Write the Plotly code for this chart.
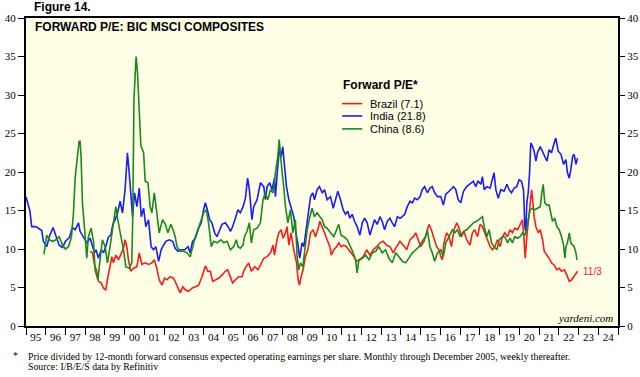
import plotly.graph_objects as go

# ---------------- data (decimal years, forward P/E) ----------------
india_x = [1995.00, 1995.20, 1995.29, 1995.50, 1995.80, 1995.88, 1996.05, 1996.18, 1996.37, 1996.52, 1996.68, 1996.85, 1997.00, 1997.20, 1997.35,
           1997.49, 1997.66, 1997.74, 1997.91, 1998.08, 1998.25, 1998.37, 1998.47, 1998.55, 1998.67, 1998.81, 1998.93, 1999.04, 1999.18, 1999.30,
           1999.40, 1999.52, 1999.64, 1999.77, 1999.89, 2000.02, 2000.14, 2000.23, 2000.31, 2000.40, 2000.50, 2000.62, 2000.74, 2000.84, 2000.96,
           2001.07, 2001.21, 2001.34, 2001.46, 2001.58, 2001.72, 2001.85, 2001.97, 2002.09, 2002.26, 2002.43, 2002.56, 2002.70, 2002.87, 2003.04,
           2003.21, 2003.32, 2003.44, 2003.58, 2003.75, 2003.88, 2004.00, 2004.09, 2004.17, 2004.31, 2004.42, 2004.56, 2004.68, 2004.80, 2004.93,
           2005.10, 2005.24, 2005.36, 2005.47, 2005.61, 2005.74, 2005.86, 2006.00, 2006.12, 2006.23, 2006.32, 2006.45, 2006.54, 2006.71,
           2006.88, 2007.05, 2007.13, 2007.22, 2007.35, 2007.47, 2007.59, 2007.64, 2007.76, 2007.84, 2007.93, 2008.01, 2008.10, 2008.20, 2008.32,
           2008.43, 2008.57, 2008.65, 2008.77, 2008.87, 2008.99, 2009.08, 2009.20, 2009.30, 2009.42, 2009.53, 2009.62, 2009.75, 2009.87, 2010.01,
           2010.13, 2010.26, 2010.43, 2010.57, 2010.69, 2010.80, 2010.94, 2011.07, 2011.19, 2011.31, 2011.41, 2011.53, 2011.65, 2011.78, 2011.92,
           2012.04, 2012.16, 2012.29, 2012.43, 2012.55, 2012.66, 2012.80, 2012.94, 2013.05, 2013.17, 2013.31, 2013.44, 2013.56, 2013.68, 2013.82,
           2013.95, 2014.07, 2014.19, 2014.32, 2014.46, 2014.58, 2014.70, 2014.83, 2014.97, 2015.08, 2015.20, 2015.34, 2015.47, 2015.59, 2015.71,
           2015.85, 2016.02, 2016.15, 2016.27, 2016.44, 2016.66, 2016.78, 2016.90, 2017.03, 2017.17, 2017.33, 2017.50, 2017.67, 2017.79, 2017.91,
           2018.05, 2018.13, 2018.22, 2018.35, 2018.52, 2018.64, 2018.72, 2018.81, 2018.93, 2019.06, 2019.23, 2019.37, 2019.48, 2019.60, 2019.74,
           2019.87, 2019.99, 2020.11, 2020.21, 2020.28, 2020.33, 2020.38, 2020.45, 2020.52, 2020.58, 2020.67, 2020.75, 2020.84, 2020.92, 2021.06,
           2021.18, 2021.29, 2021.40, 2021.51, 2021.63, 2021.77, 2021.85, 2021.97, 2022.11, 2022.24, 2022.36, 2022.44, 2022.53, 2022.61, 2022.70,
           2022.78, 2022.87, 2022.95]
india_pe = [16.8, 14.9, 12.9, 12.9, 12.4, 11.0, 10.3, 11.6, 12.8, 11.6, 10.5, 10.2, 11.0, 11.5, 12.8,
            12.5, 13.4, 12.3, 11.6, 10.8, 11.4, 10.3, 9.5, 9.9, 8.8, 9.9, 9.5, 10.3, 11.6, 11.8,
            13.2, 13.8, 14.7, 16.2, 14.7, 17.7, 22.5, 19.9, 17.3, 14.2, 17.3, 15.5, 17.9, 14.2, 15.3,
            12.9, 13.8, 10.3, 9.9, 10.3, 8.4, 9.9, 10.5, 11.0, 11.2, 11.0, 10.1, 9.7, 9.9, 9.9,
            10.3, 9.5, 11.0, 11.4, 12.7, 13.4, 15.1, 16.0, 15.3, 13.8, 13.4, 12.1, 11.6, 12.3, 13.2,
            13.4, 12.9, 12.3, 12.9, 14.0, 15.1, 14.7, 15.5, 16.6, 19.2, 17.7, 13.8, 15.5, 16.4,
            18.6, 18.1, 16.4, 18.1, 18.6, 17.7, 19.2, 16.8, 20.8, 22.9, 22.0, 23.3, 20.8, 18.1, 16.4,
            15.5, 14.2, 12.5, 10.8, 8.8, 10.8, 10.3, 12.5, 14.7, 16.8, 17.3, 16.4, 17.7, 18.1, 17.3,
            17.7, 16.4, 16.8, 15.3, 16.4, 17.5, 16.4, 15.1, 14.5, 14.9, 14.0, 14.5, 13.6, 12.9, 11.8,
            13.4, 14.0, 13.4, 11.8, 12.9, 13.8, 13.2, 14.2, 13.6, 12.5, 13.6, 14.0, 13.4, 12.9, 14.2,
            14.0, 14.2, 14.5, 15.5, 16.2, 16.0, 16.6, 16.4, 16.8, 17.7, 18.1, 17.3, 17.9, 18.1, 17.3,
            16.8, 16.8, 15.7, 17.1, 17.5, 18.1, 17.7, 16.4, 16.0, 17.5, 18.1, 18.4, 18.8, 18.1, 18.8,
            18.4, 19.4, 17.7, 18.1, 17.9, 19.0, 19.9, 17.7, 16.6, 17.7, 17.5, 18.4, 17.7, 17.3, 17.9,
            18.1, 19.0, 18.8, 17.7, 12.9, 12.3, 16.0, 17.3, 19.9, 23.8, 23.3, 22.7, 21.4, 22.5, 23.3,
            22.7, 22.0, 21.4, 22.9, 22.5, 23.8, 24.4, 22.7, 22.3, 21.0, 21.6, 19.9, 19.2, 20.3, 22.0,
            22.3, 21.0, 21.8]

china_x = [1995.91, 1996.05, 1996.18, 1996.35, 1996.52, 1996.68, 1996.85, 1997.00, 1997.15, 1997.30, 1997.40, 1997.49, 1997.69, 1997.74, 1997.79,
           1997.86, 1997.96, 1998.08, 1998.16, 1998.30, 1998.42, 1998.50, 1998.64, 1998.76, 1998.87, 1999.01, 1999.13, 1999.26, 1999.43, 1999.55,
           1999.65, 1999.77, 1999.94, 2000.06, 2000.23, 2000.36, 2000.41, 2000.47, 2000.53, 2000.58, 2000.65, 2000.74, 2000.82, 2000.96, 2001.04,
           2001.18, 2001.29, 2001.38, 2001.50, 2001.63, 2001.75, 2001.92, 2002.06, 2002.19, 2002.34, 2002.48, 2002.56, 2002.65, 2002.82, 2002.99,
           2003.16, 2003.32, 2003.44, 2003.58, 2003.83, 2004.00, 2004.14, 2004.25, 2004.39, 2004.51, 2004.68, 2004.88, 2005.02, 2005.19, 2005.36,
           2005.52, 2005.66, 2005.74, 2005.86, 2006.00, 2006.07, 2006.20, 2006.32, 2006.42, 2006.54, 2006.71,
           2006.88, 2007.01, 2007.13, 2007.25, 2007.39, 2007.52, 2007.64, 2007.76, 2007.83, 2007.89, 2007.98, 2008.06, 2008.15, 2008.27, 2008.40,
           2008.52, 2008.65, 2008.74, 2008.82, 2008.91, 2009.03, 2009.13, 2009.25, 2009.37, 2009.50, 2009.62, 2009.75, 2009.89, 2010.01, 2010.13,
           2010.26, 2010.43, 2010.60, 2010.74, 2010.85, 2010.97, 2011.11, 2011.28, 2011.45, 2011.58, 2011.70, 2011.78, 2011.87, 2012.04, 2012.21,
           2012.38, 2012.55, 2012.72, 2012.88, 2013.05, 2013.22, 2013.39, 2013.56, 2013.73, 2013.90, 2014.07, 2014.24, 2014.41, 2014.58, 2014.75,
           2014.92, 2015.08, 2015.25, 2015.34, 2015.47, 2015.59, 2015.71, 2015.85, 2016.02, 2016.15, 2016.27, 2016.44, 2016.61, 2016.73, 2016.86,
           2017.00, 2017.17, 2017.33, 2017.50, 2017.67, 2017.84, 2018.01, 2018.13, 2018.22, 2018.35, 2018.47, 2018.59, 2018.72, 2018.86, 2018.98,
           2019.15, 2019.26, 2019.40, 2019.53, 2019.65, 2019.77, 2019.91, 2020.04, 2020.16, 2020.28, 2020.38, 2020.45, 2020.55, 2020.67, 2020.79,
           2020.92, 2021.06, 2021.14, 2021.21, 2021.29, 2021.40, 2021.51, 2021.60, 2021.68, 2021.80, 2021.90, 2022.02, 2022.14, 2022.24, 2022.31,
           2022.36, 2022.44, 2022.53, 2022.61, 2022.70, 2022.78, 2022.87, 2022.92]
china_pe = [9.3, 11.8, 11.2, 11.0, 11.2, 11.6, 10.5, 10.0, 10.3, 11.5, 14.5, 19.2, 24.0, 24.0, 22.0,
            16.0, 12.9, 8.8, 11.6, 12.7, 11.0, 7.3, 6.0, 9.0, 11.2, 10.3, 8.2, 10.3, 13.4, 15.5,
            13.8, 12.3, 9.9, 7.7, 7.5, 8.2, 14.2, 29.4, 32.9, 35.0, 32.9, 28.1, 23.4, 22.5, 18.8,
            18.6, 15.5, 14.7, 17.3, 14.7, 12.1, 13.8, 13.2, 12.1, 13.2, 12.3, 11.6, 10.3, 9.7, 9.7,
            9.5, 9.0, 10.3, 11.6, 13.4, 14.7, 15.1, 13.4, 10.3, 11.0, 10.8, 11.2, 10.8, 11.0, 9.9,
            10.3, 11.2, 10.3, 10.1, 10.5, 11.6, 12.3, 13.4, 10.8, 12.5, 12.7,
            13.4, 16.4, 17.3, 16.4, 17.7, 17.3, 19.9, 22.0, 24.2, 22.0, 19.9, 18.1, 15.5, 13.4, 15.1,
            12.1, 13.8, 9.0, 7.3, 8.2, 7.7, 9.9, 12.5, 14.0, 15.3, 14.2, 14.7, 14.2, 13.8, 12.9,
            12.7, 12.1, 11.6, 12.5, 13.2, 11.8, 11.6, 11.2, 10.3, 9.5, 8.6, 6.9, 8.6, 8.8, 9.2,
            8.6, 9.5, 9.7, 10.3, 9.5, 9.9, 8.8, 8.2, 9.5, 9.0, 8.4, 8.2, 8.8, 9.5, 9.9,
            10.3, 11.0, 11.6, 12.5, 10.3, 9.5, 8.4, 9.5, 9.9, 9.0, 10.8, 11.6, 12.5, 12.1, 12.5,
            11.6, 12.3, 12.5, 12.9, 13.4, 13.6, 14.0, 14.2, 12.9, 11.6, 12.5, 10.8, 10.3, 9.9, 11.2,
            11.6, 11.6, 10.8, 11.4, 10.8, 11.6, 11.4, 11.6, 12.1, 11.8, 12.5, 13.8, 15.1, 15.3, 15.1,
            15.3, 15.5, 17.3, 18.4, 16.0, 15.7, 15.7, 14.7, 13.6, 14.0, 12.9, 12.5, 11.6, 10.5, 8.8,
            10.3, 10.8, 12.1, 10.8, 10.5, 10.3, 9.5, 8.6]

brazil_x = [1998.25, 1998.37, 1998.47, 1998.59, 1998.67, 1998.81, 1998.93, 1999.04, 1999.14, 1999.23, 1999.35, 1999.43, 1999.55, 1999.69, 1999.82,
            1999.94, 2000.02, 2000.11, 2000.19, 2000.31, 2000.45, 2000.62, 2000.74, 2000.87, 2001.04, 2001.21, 2001.38, 2001.50, 2001.63, 2001.75,
            2001.89, 2002.02, 2002.14, 2002.31, 2002.48, 2002.65, 2002.82, 2002.94, 2003.07, 2003.24, 2003.41, 2003.58, 2003.75, 2003.92, 2004.09,
            2004.22, 2004.34, 2004.46, 2004.59, 2004.76, 2004.93, 2005.10, 2005.22, 2005.36, 2005.47, 2005.61, 2005.78, 2005.95, 2006.03, 2006.15,
            2006.29, 2006.42, 2006.59, 2006.76,
            2006.88, 2007.05, 2007.22, 2007.39, 2007.52, 2007.59, 2007.72, 2007.81, 2007.93, 2008.03, 2008.15, 2008.23, 2008.32, 2008.43, 2008.57,
            2008.71, 2008.79, 2008.86, 2008.94, 2009.04, 2009.16, 2009.28, 2009.42, 2009.55, 2009.67, 2009.79, 2009.89, 2010.01, 2010.13, 2010.26,
            2010.40, 2010.47, 2010.60, 2010.74, 2010.85, 2010.97, 2011.11, 2011.24, 2011.36, 2011.48, 2011.62, 2011.75, 2011.92, 2012.09, 2012.26,
            2012.43, 2012.60, 2012.77, 2012.94, 2013.10, 2013.27, 2013.44, 2013.61, 2013.78, 2013.95, 2014.12, 2014.29, 2014.46, 2014.63, 2014.75,
            2014.86, 2015.00, 2015.17, 2015.30, 2015.42, 2015.54, 2015.68, 2015.81, 2015.93,
            2016.02, 2016.10, 2016.18, 2016.32, 2016.44, 2016.56, 2016.69, 2016.83, 2016.95, 2017.06, 2017.20, 2017.33, 2017.50, 2017.62, 2017.74,
            2017.88, 2018.01, 2018.13, 2018.25, 2018.38, 2018.52, 2018.64, 2018.76, 2018.89, 2019.03, 2019.15, 2019.26, 2019.40, 2019.53, 2019.65,
            2019.77, 2019.91, 2020.04, 2020.16, 2020.25, 2020.30, 2020.38, 2020.47, 2020.55, 2020.62, 2020.69, 2020.75, 2020.84, 2020.96, 2021.06,
            2021.18, 2021.26, 2021.40, 2021.51, 2021.63, 2021.77, 2021.90, 2022.02, 2022.14, 2022.28, 2022.41, 2022.53, 2022.65, 2022.75, 2022.87,
            2022.95]
brazil_pe = [9.7, 9.5, 8.0, 7.1, 5.8, 5.6, 4.9, 4.7, 6.2, 7.3, 9.0, 8.2, 9.2, 8.6, 9.5,
             10.1, 11.2, 10.3, 8.6, 7.1, 7.5, 7.7, 9.5, 8.0, 8.2, 8.0, 8.2, 8.6, 7.5, 6.0,
             5.3, 6.2, 6.0, 6.4, 6.2, 5.3, 4.3, 5.1, 4.7, 4.5, 4.9, 5.1, 5.3, 6.4, 7.8,
             7.1, 7.1, 5.8, 6.0, 6.2, 6.6, 7.1, 7.3, 6.4, 5.6, 6.0, 6.4, 6.4, 7.1, 7.7,
             8.2, 7.1, 7.7, 7.3,
             7.9, 8.8, 9.0, 9.5, 10.5, 9.2, 11.2, 12.1, 12.5, 11.4, 12.1, 12.9, 10.5, 12.1, 9.9,
             8.2, 6.0, 5.3, 6.4, 7.3, 9.0, 9.9, 12.1, 12.5, 11.6, 12.5, 13.6, 12.9, 12.1, 11.2,
             10.3, 9.2, 9.9, 10.3, 10.8, 10.3, 10.5, 10.3, 9.9, 9.5, 9.0, 8.4, 8.6, 9.0, 9.9,
             9.2, 9.9, 10.3, 10.8, 11.0, 10.5, 10.3, 9.5, 10.3, 11.0, 10.5, 9.9, 11.2, 11.6, 12.1,
             11.2, 10.3, 11.0, 12.1, 13.2, 12.5, 11.2, 10.3, 9.9,
             9.0, 8.6, 10.8, 12.1, 11.6, 10.3, 12.5, 13.4, 12.7, 11.6, 12.3, 11.2, 10.5, 12.1, 12.5,
             11.6, 13.2, 12.9, 12.1, 11.2, 10.3, 9.9, 10.3, 11.2, 10.3, 11.6, 12.1, 11.6, 12.5, 12.1,
             12.7, 12.5, 13.2, 13.8, 10.8, 8.8, 11.6, 14.2, 16.4, 17.7, 16.0, 14.2, 12.9, 12.1, 12.5,
             11.2, 9.7, 9.2, 8.8, 8.2, 7.9, 7.3, 7.5, 7.1, 7.3, 6.6, 5.8, 6.0, 6.4, 6.9,
             7.1]

series_names = ["Brazil (7.1)", "India (21.8)", "China (8.6)"]
series_colors = ["#ff1a1a", "#1a1aff", "#1a8a1a"]
legend_title = "Forward P/E*"

year_labels = ["95", "96", "97", "98", "99", "00", "01", "02", "03", "04", "05", "06", "07", "08", "09",
               "10", "11", "12", "13", "14", "15", "16", "17", "18", "19", "20", "21", "22", "23", "24"]
first_year = 1995
y_ticks = [0, 5, 10, 15, 20, 25, 30, 35, 40]

# ---------------- figure ----------------
fig = go.Figure()
series = [(series_names[0], brazil_x, brazil_pe, series_colors[0]),
          (series_names[1], india_x, india_pe, series_colors[1]),
          (series_names[2], china_x, china_pe, series_colors[2])]
for name, xs, ys, col in series:
    fig.add_trace(go.Scatter(x=xs, y=ys, mode="lines", name=name,
                             line=dict(color=col, width=1.6), showlegend=False))

n_years = len(year_labels)
label_pos = [first_year + i + 0.5 for i in range(n_years)]
boundary_pos = [first_year + i for i in range(n_years + 1)]

serif = "Liberation Serif"
sans = "Liberation Sans"
tickfont = dict(family=serif, size=11, color="black")

fig.update_layout(
    width=640, height=377,
    margin=dict(l=26, r=22, t=18, b=51, autoexpand=False),
    paper_bgcolor="white",
    plot_bgcolor="#ffffe6",
    showlegend=False,
    xaxis=dict(range=[first_year, first_year + n_years], showgrid=False, zeroline=False, automargin=False,
               showline=True, linecolor="black", linewidth=2, mirror=True,
               tickmode="array", tickvals=label_pos, ticktext=year_labels, ticks="",
               tickfont=tickfont,
               minor=dict(tickmode="array", tickvals=boundary_pos, ticks="outside",
                          ticklen=7, tickwidth=1, tickcolor="black", showgrid=False)),
    yaxis=dict(range=[0, 40], tickvals=y_ticks, showgrid=False, zeroline=False, automargin=False,
               showline=True, linecolor="black", linewidth=2, mirror=True,
               ticks="outside", ticklen=6, tickcolor="black", tickfont=tickfont),
    yaxis2=dict(range=[0, 40], tickvals=y_ticks, overlaying="y", side="right", automargin=False,
                showgrid=False, zeroline=False, showline=False,
                ticks="outside", ticklen=6, tickcolor="black", tickfont=tickfont),
)

# invisible trace so the right-hand axis renders
fig.add_trace(go.Scatter(x=[first_year], y=[0], yaxis="y2", mode="markers",
                         marker=dict(opacity=0), showlegend=False, hoverinfo="skip"))

# legend drawn as a compact key (rows are tighter than Plotly's built-in legend allows)
leg_x0, leg_x1, leg_tx = 0.534, 0.568, 0.578
leg_title_y = 0.782
leg_rows_y = [0.722, 0.682, 0.640]
fig.add_annotation(text="<b>" + legend_title + "</b>", xref="paper", yref="paper",
                   x=leg_x0 - 0.002, y=leg_title_y, xanchor="left", yanchor="middle", showarrow=False,
                   font=dict(family=sans, size=12, color="black"))
for (name, _, _, col), ry in zip(series, leg_rows_y):
    fig.add_shape(type="line", xref="paper", yref="paper", x0=leg_x0, x1=leg_x1, y0=ry, y1=ry,
                  line=dict(color=col, width=1.6))
    fig.add_annotation(text=name, xref="paper", yref="paper", x=leg_tx, y=ry,
                       xanchor="left", yanchor="middle", showarrow=False,
                       font=dict(family=sans, size=11, color="black"))

fig.add_annotation(text="<b>Figure 14.</b>", xref="paper", yref="paper", x=0.01, y=1.036,
                   xanchor="left", yanchor="middle", showarrow=False,
                   font=dict(family=sans, size=12, color="black"))
fig.add_annotation(text="<b>FORWARD P/E: BIC MSCI COMPOSITES</b>", xref="paper", yref="paper",
                   x=0.011, y=0.971, xanchor="left", yanchor="middle", showarrow=False,
                   font=dict(family=sans, size=12, color="black"))
fig.add_annotation(text="*", xref="paper", yref="paper", x=-0.025, y=-0.096,
                   xanchor="left", yanchor="middle", showarrow=False,
                   font=dict(family=serif, size=9.8, color="black"))
fig.add_annotation(text="Price divided by 12-month forward consensus expected operating earnings per share. Monthly through December 2005, weekly thereafter.",
                   xref="paper", yref="paper", x=0.0, y=-0.098, xanchor="left", yanchor="middle",
                   showarrow=False, font=dict(family=serif, size=9.8, color="black"))
fig.add_annotation(text="Source: I/B/E/S data by Refinitiv",
                   xref="paper", yref="paper", x=0.0, y=-0.133, xanchor="left", yanchor="middle",
                   showarrow=False, font=dict(family=serif, size=9.8, color="black"))
fig.add_annotation(text="<i>yardeni.com</i>", xref="paper", yref="paper", x=0.995, y=0.026,
                   xanchor="right", yanchor="middle", showarrow=False,
                   font=dict(family=serif, size=11, color="black"))
fig.add_annotation(text="11/3", x=brazil_x[-1], y=brazil_pe[-1], xref="x", yref="y",
                   xanchor="left", yanchor="middle", xshift=3, showarrow=False,
                   font=dict(family=sans, size=10, color=series_colors[0]))

# remove the browser's default 8px page margin so the 640x377 figure fills the window exactly
fig.write_html("out.html", config={"displayModeBar": False},
               post_script="document.body.style.margin='0';")
